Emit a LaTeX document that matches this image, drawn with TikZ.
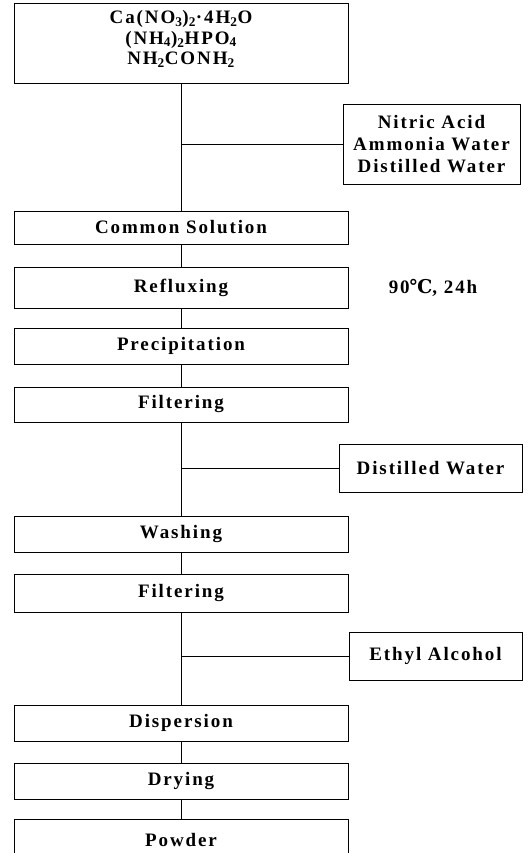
\documentclass[tikz,border=0pt]{standalone}
\usepackage{fontspec}
\setmainfont{Liberation Serif}[LetterSpace=10]
\newfontfamily\symfont{DejaVu Serif}
\usepackage{tikz}
\newcommand{\sub}[1]{\textsubscript{#1}}
\tikzset{
    stage/.style={draw,line width=0.8pt,minimum width=334pt,inner sep=0pt,align=center,font=\bfseries\fontsize{19}{20.5}\selectfont},
    additive/.style={draw,line width=0.8pt,inner sep=0pt,align=center,font=\bfseries\fontsize{19}{22}\selectfont},
    link/.style={line width=0.8pt}
}

\begin{document}
\begin{tikzpicture}[x=1pt,y=-1pt]
    \clip (0,0) rectangle (528,853);
    \fill[white] (0,0) rectangle (528,853);

    \node[stage,minimum height=80pt] (raw) at (181,43) {};
    \node[font=\bfseries\fontsize{19}{20.5}\selectfont,align=center,inner sep=0pt] (rawtext) at (181,39) {Ca(NO\sub{3})\sub{2}·4H\sub{2}O\\(NH\sub{4})\sub{2}HPO\sub{4}\\NH\sub{2}CONH\sub{2}};
    \node[stage,minimum height=33pt] (solution) at (181,227.5) {Common Solution};
    \node[stage,minimum height=41pt] (reflux) at (181,287.5) {Refluxing};
    \node[stage,minimum height=36pt] (precip) at (181,346) {Precipitation};
    \node[stage,minimum height=35pt] (filterA) at (181,404.5) {Filtering};
    \node[stage,minimum height=36pt] (wash) at (181,534) {Washing};
    \node[stage,minimum height=38pt] (filterB) at (181,593) {Filtering};
    \node[stage,minimum height=36pt] (disperse) at (181,723) {Dispersion};
    \node[stage,minimum height=36pt] (dry) at (181,781) {Drying};
    \node[stage,minimum height=42pt] (powder) at (181,840) {Powder};

    \node[additive,minimum width=177pt,minimum height=80pt] (acids) at (431.5,144) {Nitric Acid\\Ammonia Water\\Distilled Water};
    \node[additive,minimum width=183pt,minimum height=48pt] (water) at (430.5,468) {Distilled Water};
    \node[additive,minimum width=173pt,minimum height=48pt] (ethanol) at (435.5,656) {Ethyl Alcohol};
    \node[font=\bfseries\fontsize{19}{21}\selectfont] (cond) at (433,288) {90{\symfont ℃}, 24h};

    \coordinate (jA) at (raw.south |- acids.west);
    \coordinate (jB) at (filterA.south |- water.west);
    \coordinate (jC) at (filterB.south |- ethanol.west);

    \draw[link] (raw) -- (solution);
    \draw[link] (solution) -- (reflux);
    \draw[link] (reflux) -- (precip);
    \draw[link] (precip) -- (filterA);
    \draw[link] (filterA) -- (wash);
    \draw[link] (wash) -- (filterB);
    \draw[link] (filterB) -- (disperse);
    \draw[link] (disperse) -- (dry);
    \draw[link] (dry) -- (powder);

    \draw[link] (jA) -- (acids.west);
    \draw[link] (jB) -- (water.west);
    \draw[link] (jC) -- (ethanol.west);
\end{tikzpicture}
\end{document}
